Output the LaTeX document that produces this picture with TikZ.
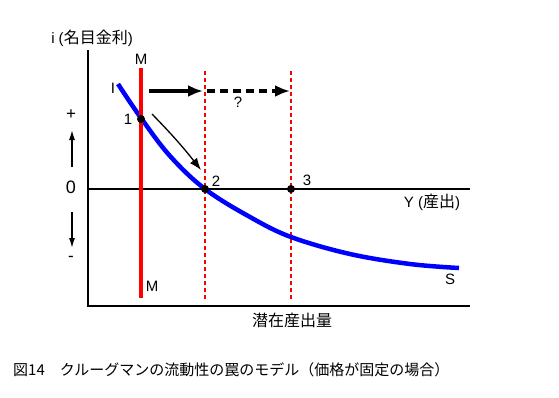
\documentclass[tikz,border=0pt]{standalone}
\usepackage{fontspec}
\setmainfont{Liberation Sans}
\newfontfamily\jp{Noto Sans CJK JP}
\usetikzlibrary{arrows.meta,positioning}

\begin{document}
\begin{tikzpicture}[x=1pt,y=-1pt,>=Latex,
  every node/.style={font=\fontsize{15}{17}\selectfont,inner sep=1pt},
  dot/.style={circle,fill=black,inner sep=0pt,minimum size=8pt},
  potline/.style={red,line width=1.8pt,dash pattern=on 4pt off 3pt},
  bigarrow/.style={line width=3.5pt,-{Latex[length=15pt,width=12pt]}}]
\useasboundingbox (0,0) rectangle (559,397);
% axes
\coordinate (top) at (88,50);
\coordinate (org) at (88,306);
\coordinate (xend) at (470,306);
\coordinate (zl) at (88,189);
\coordinate (zr) at (470,189);
\draw[line width=1.8pt] (top) -- (org) -- (xend);
\draw[line width=1.2pt] (zl) -- (zr);
\node (ilab) at (92,38) {i ({\jp\fontsize{16}{18}\selectfont 名目金利})};
\node (ylab) at (432,202) {Y ({\jp\fontsize{16}{18}\selectfont 産出})};
\node[font=\jp\fontsize{16}{18}\selectfont] (pot) at (292,320) {潜在産出量};
\node[font=\fontsize{18}{20}\selectfont] (zero) at (71,187) {0};
\node[font=\fontsize{17}{19}\selectfont] (plus) at (71,115) {+};
\node[font=\fontsize{17}{19}\selectfont] (minus) at (71,259) {-};
\coordinate (upa) at (72,167); \coordinate (upb) at (72,130);
\coordinate (dna) at (72,212); \coordinate (dnb) at (72,248);
\draw[line width=1.4pt,-{Latex[length=10pt,width=6pt]}] (upa) -- (upb);
\draw[line width=1.4pt,-{Latex[length=10pt,width=6pt]}] (dna) -- (dnb);
% potential output lines
\coordinate (d2t) at (205,71); \coordinate (d2b) at (205,300);
\coordinate (d3t) at (291,71); \coordinate (d3b) at (291,300);
\draw[potline] (d2t) -- (d2b);
\draw[potline] (d3t) -- (d3b);
% IS curve
\draw[blue,line width=4.5pt] plot[smooth,tension=0.6] coordinates
  {(118,84) (141,118) (170,156) (205,189) (250,217) (291,237) (350,254) (410,264) (459,268)};
% LM line
\coordinate (mt) at (141,68); \coordinate (mb) at (141,298);
\draw[red,line width=4pt] (mt) -- (mb);
\node (mtop) at (141,59) {M};
\node (mbot) at (152,286) {M};
\node (Ilab) at (113,88) {I};
\node (Slab) at (450,279) {S};
% equilibria
\node[dot] (p1) at (141,119) {};
\node[dot] (p2) at (205,189) {};
\node[dot] (p3) at (291,189) {};
\node (l1) at (128,119) {1};
\node (l2) at (216,181) {2};
\node (l3) at (307,180) {3};
% shifts
\coordinate (a1) at (149,91); \coordinate (a2) at (203,91);
\coordinate (a3) at (207,91); \coordinate (a4) at (290,91);
\draw[bigarrow] (a1) -- (a2);
\draw[bigarrow,dash pattern=on 8pt off 5pt] (a3) -- (a4);
\node (q) at (238,102) {?};
\coordinate (c1) at (152,114); \coordinate (c2) at (201,170);
\draw[line width=1.3pt,-{Latex[length=12pt,width=9pt]}] (c1) to[bend left=3] (c2);
% caption
\node[anchor=west,font=\jp\fontsize{15}{17}\selectfont] (cap) at (12,370)
  {図14　クルーグマンの流動性の罠のモデル（価格が固定の場合）};
\end{tikzpicture}
\end{document}
